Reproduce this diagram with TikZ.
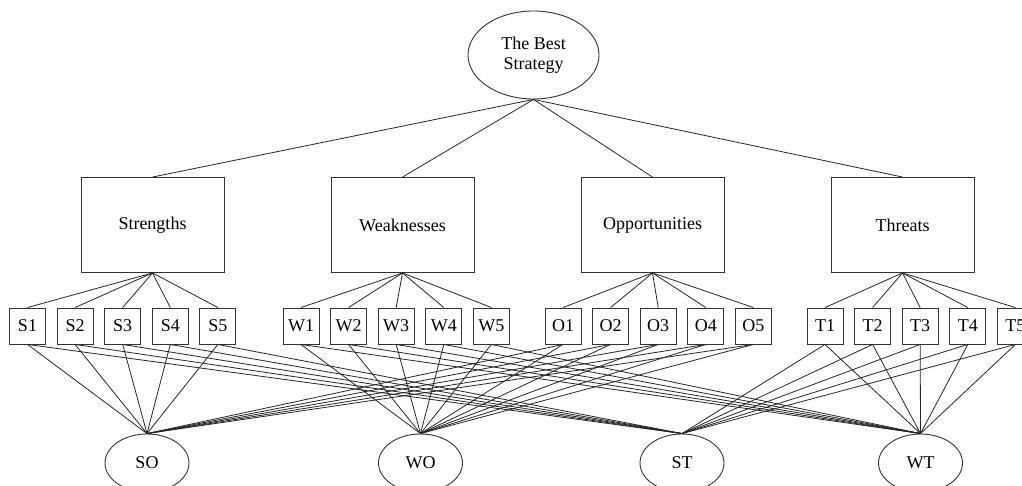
\documentclass[tikz,border=0pt]{standalone}
\usepackage{fontspec}
\setmainfont{Liberation Serif}
\usetikzlibrary{shapes.geometric}
\begin{document}
\begin{tikzpicture}[x=1pt,y=-1pt,
  every node/.style={font=\fontsize{18}{20}\selectfont, text=black},
  goal/.style={ellipse, draw=black!80, line width=0.9pt, minimum width=131pt, minimum height=88pt, inner sep=0pt, align=center},
  catbox/.style={rectangle, draw=black!80, line width=0.9pt, minimum width=143pt, minimum height=95pt, inner sep=0pt},
  itembox/.style={rectangle, draw=black!80, line width=0.9pt, minimum width=36pt, minimum height=36pt, inner sep=0pt},
  combo/.style={ellipse, draw=black!80, line width=0.9pt, minimum width=84pt, minimum height=58pt, inner sep=0pt},
  link/.style={draw=black!85, line width=0.8pt}]
\useasboundingbox (0,0) rectangle (1022,486);
\clip (0,0) rectangle (1022,486);

% goal
\node[goal] (goal) at (533.5,55) {The Best\\Strategy};

% SWOT categories
\node[catbox] (Str) at (152.5,225) {Strengths};
\node[catbox] (Wea) at (402.5,225) {Weaknesses};
\node[catbox] (Opp) at (652.5,225) {Opportunities};
\node[catbox] (Thr) at (902.5,225) {Threats};

% factors of each category
\foreach \i in {1,...,5} {
  \node[itembox] (S\i) at ({27.5+47.6*(\i-1)},326) {S\i};
  \node[itembox] (W\i) at ({301+47.6*(\i-1)},326) {W\i};
  \node[itembox] (O\i) at ({563+47.6*(\i-1)},326) {O\i};
  \node[itembox] (T\i) at ({825+47.6*(\i-1)},326) {T\i};
}

% strategy combinations
\node[combo] (SO) at (147,463) {SO};
\node[combo] (WO) at (420.5,463) {WO};
\node[combo] (ST) at (682,463) {ST};
\node[combo] (WT) at (920.5,463) {WT};

% goal to categories
\foreach \c in {Str,Wea,Opp,Thr}
  \draw[link] (goal.south) -- (\c.north);

% categories to factors, factors to combinations
\foreach \i in {1,...,5} {
  \draw[link] (Str.south) -- (S\i.north);
  \draw[link] (Wea.south) -- (W\i.north);
  \draw[link] (Opp.south) -- (O\i.north);
  \draw[link] (Thr.south) -- (T\i.north);
  \draw[link] (S\i.south) -- (SO.north);
  \draw[link] (S\i.south) -- (ST.north);
  \draw[link] (W\i.south) -- (WO.north);
  \draw[link] (W\i.south) -- (WT.north);
  \draw[link] (O\i.south) -- (SO.north);
  \draw[link] (O\i.south) -- (WO.north);
  \draw[link] (T\i.south) -- (ST.north);
  \draw[link] (T\i.south) -- (WT.north);
}
\end{tikzpicture}
\end{document}
